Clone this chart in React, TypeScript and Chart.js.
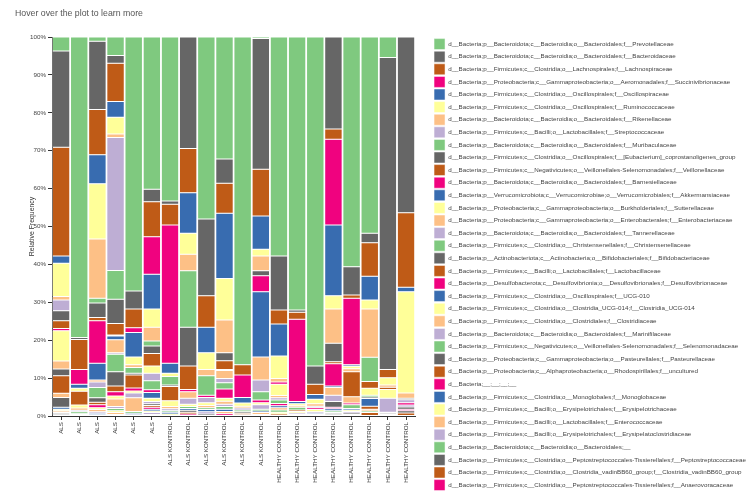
import React, { useEffect, useRef } from 'react';
import { Chart, registerables } from 'chart.js';

Chart.register(...registerables);

const FONT = "'Liberation Sans', Arial, Helvetica, sans-serif";

const sampleLabels = [
  'ALS', 'ALS', 'ALS', 'ALS', 'ALS', 'ALS',
  'ALS KONTROL', 'ALS KONTROL', 'ALS KONTROL', 'ALS KONTROL', 'ALS KONTROL', 'ALS KONTROL',
  'HEALTHY CONTROL', 'HEALTHY CONTROL', 'HEALTHY CONTROL', 'HEALTHY CONTROL',
  'HEALTHY CONTROL', 'HEALTHY CONTROL', 'HEALTHY CONTROL', 'HEALTHY CONTROL',
];

const taxa = [
  'd__Bacteria;p__Bacteroidota;c__Bacteroidia;o__Bacteroidales;f__Prevotellaceae',
  'd__Bacteria;p__Bacteroidota;c__Bacteroidia;o__Bacteroidales;f__Bacteroidaceae',
  'd__Bacteria;p__Firmicutes;c__Clostridia;o__Lachnospirales;f__Lachnospiraceae',
  'd__Bacteria;p__Proteobacteria;c__Gammaproteobacteria;o__Aeromonadales;f__Succinivibrionaceae',
  'd__Bacteria;p__Firmicutes;c__Clostridia;o__Oscillospirales;f__Oscillospiraceae',
  'd__Bacteria;p__Firmicutes;c__Clostridia;o__Oscillospirales;f__Ruminococcaceae',
  'd__Bacteria;p__Bacteroidota;c__Bacteroidia;o__Bacteroidales;f__Rikenellaceae',
  'd__Bacteria;p__Firmicutes;c__Bacilli;o__Lactobacillales;f__Streptococcaceae',
  'd__Bacteria;p__Bacteroidota;c__Bacteroidia;o__Bacteroidales;f__Muribaculaceae',
  'd__Bacteria;p__Firmicutes;c__Clostridia;o__Oscillospirales;f__[Eubacterium]_coprostanoligenes_group',
  'd__Bacteria;p__Firmicutes;c__Negativicutes;o__Veillonellales-Selenomonadales;f__Veillonellaceae',
  'd__Bacteria;p__Bacteroidota;c__Bacteroidia;o__Bacteroidales;f__Barnesiellaceae',
  'd__Bacteria;p__Verrucomicrobiota;c__Verrucomicrobiae;o__Verrucomicrobiales;f__Akkermansiaceae',
  'd__Bacteria;p__Proteobacteria;c__Gammaproteobacteria;o__Burkholderiales;f__Sutterellaceae',
  'd__Bacteria;p__Proteobacteria;c__Gammaproteobacteria;o__Enterobacterales;f__Enterobacteriaceae',
  'd__Bacteria;p__Bacteroidota;c__Bacteroidia;o__Bacteroidales;f__Tannerellaceae',
  'd__Bacteria;p__Firmicutes;c__Clostridia;o__Christensenellales;f__Christensenellaceae',
  'd__Bacteria;p__Actinobacteriota;c__Actinobacteria;o__Bifidobacteriales;f__Bifidobacteriaceae',
  'd__Bacteria;p__Firmicutes;c__Bacilli;o__Lactobacillales;f__Lactobacillaceae',
  'd__Bacteria;p__Desulfobacterota;c__Desulfovibrionia;o__Desulfovibrionales;f__Desulfovibrionaceae',
  'd__Bacteria;p__Firmicutes;c__Clostridia;o__Oscillospirales;f__UCG-010',
  'd__Bacteria;p__Firmicutes;c__Clostridia;o__Clostridia_UCG-014;f__Clostridia_UCG-014',
  'd__Bacteria;p__Firmicutes;c__Clostridia;o__Clostridiales;f__Clostridiaceae',
  'd__Bacteria;p__Bacteroidota;c__Bacteroidia;o__Bacteroidales;f__Marinifilaceae',
  'd__Bacteria;p__Firmicutes;c__Negativicutes;o__Veillonellales-Selenomonadales;f__Selenomonadaceae',
  'd__Bacteria;p__Proteobacteria;c__Gammaproteobacteria;o__Pasteurellales;f__Pasteurellaceae',
  'd__Bacteria;p__Proteobacteria;c__Alphaproteobacteria;o__Rhodospirillales;f__uncultured',
  'd__Bacteria;__;__;__;__',
  'd__Bacteria;p__Firmicutes;c__Clostridia;o__Monoglobales;f__Monoglobaceae',
  'd__Bacteria;p__Firmicutes;c__Bacilli;o__Erysipelotrichales;f__Erysipelotrichaceae',
  'd__Bacteria;p__Firmicutes;c__Bacilli;o__Lactobacillales;f__Enterococcaceae',
  'd__Bacteria;p__Firmicutes;c__Bacilli;o__Erysipelotrichales;f__Erysipelatoclostridiaceae',
  'd__Bacteria;p__Bacteroidota;c__Bacteroidia;o__Bacteroidales;__',
  'd__Bacteria;p__Firmicutes;c__Clostridia;o__Peptostreptococcales-Tissierellales;f__Peptostreptococcaceae',
  'd__Bacteria;p__Firmicutes;c__Clostridia;o__Clostridia_vadinBB60_group;f__Clostridia_vadinBB60_group',
  'd__Bacteria;p__Firmicutes;c__Clostridia;o__Peptostreptococcales-Tissierellales;f__Anaerovoracaceae',
];

const palette = ['#7fc97f', '#666666', '#bf5b17', '#f0027f', '#386cb0', '#ffff99', '#fdc086', '#beaed4'];

// Relative frequency (%) of each taxon (same order as `taxa`) per sample
const als1 = [3.7,25.4,28.7,0,1.9,8.8,0.9,2.8,0,2.7,2.0,0.6,0,8.0,2.1,0,0,1.8,4.6,0,0,0,1.1,0,0,2.6,0,0,0.5,0.4,0.4,0.3,0,0.4,0.3,0];
const als2 = [79.3,0.5,7.9,3.9,1.1,0.8,0,0,0,0,3.6,0,0,0.8,0.6,0.4,0.5,0,0,0,0.3,0,0,0,0,0,0,0,0,0.3,0,0,0,0,0,0];
const als3 = [1.1,18.0,12.0,0,7.6,14.6,15.6,0,1.3,3.8,0.9,11.2,4.4,0,0.5,1.5,2.7,1.2,0.6,0.8,0,0.5,0.6,0.4,0,0,0,0,0.4,0,0,0,0,0,0.3,0];
const als4 = [4.9,2.0,10.1,0,4.2,4.4,0.9,35.1,7.6,6.4,3.0,0.3,1.0,0,3.4,0.4,4.6,3.8,1.5,1.1,0,0.8,2.0,0.5,0.6,0,0,0,0,0.5,0.5,0,0,0.4,0,0];
const als5 = [67.0,4.8,4.9,1.3,6.4,2.1,0.7,0,1.5,0.5,3.4,0.8,0,0.5,0,1.3,0,0,0,0,0,0,3.6,0,0.5,0,0,0,0.4,0,0.3,0,0,0,0,0];
const als6 = [40.2,3.3,9.2,9.9,9.2,4.8,3.6,0,1.3,2.0,3.3,0,0,1.9,0,2.0,2.4,0,0,0.7,1.5,0.9,0,0.6,0,0.4,0.5,0.5,0.5,0.4,0,0.5,0,0,0.4,0];
const alsKontrol1 = [43.3,0.8,5.5,36.5,2.6,0.9,0,0,2.2,0.4,3.8,0,0,1.5,0.6,0.5,0.4,0,0,0,0.5,0,0,0,0,0,0,0,0,0.5,0,0,0,0,0,0];
const alsKontrol2 = [0,29.4,11.7,0,10.7,5.5,4.4,0,14.9,10.2,6.2,0.6,0,0,1.7,1.6,0,0,0,0,0,0.6,0,0,0.5,0,0,0,0.5,0,0,0,0,0.5,0.5,0.5];
const alsKontrol3 = [48.0,20.3,8.3,0,6.7,4.4,1.7,0,5.1,0,0,0.6,0,0,0,1.4,0,0,0,0,0,0.7,0.6,0,0.5,0,0,0,0.6,0,0,0.6,0,0.5,0,0];
const alsKontrol4 = [32.2,6.4,7.9,0,17.2,11.0,8.6,0,0,2.1,2.3,0.3,0,0,2.1,1.1,1.7,0,0,2.4,0,0.8,0.8,0.6,0.7,0,0,0,0.6,0,0.6,0,0,0,0,0.6];
const alsKontrol5 = [86.5,0,2.7,5.9,1.5,0.8,0.5,0.5,0.5,0.4,0.4,0,0,0.3,0,0,0,0,0,0,0,0,0,0,0,0,0,0,0,0,0,0,0,0,0,0];
const alsKontrol6 = [0.4,34.5,12.3,0,8.8,1.8,3.9,0,0,1.3,0,4.2,17.2,0,6.1,3.1,2.2,0,0,0.7,0,0.5,0,1.2,0.5,0,0,0,0.4,0,0.5,0,0,0.4,0,0];
const healthy1 = [57.8,14.2,3.7,0,8.5,5.9,0.9,0,0,0,0,0.6,0,3.0,0.6,0.6,0.9,0,0,0.6,0.5,0,0.6,0,0.6,0,0,0,0,0.5,0,0,0,0,0.5,0];
const healthy2 = [72.0,0.6,1.9,21.7,0.6,0.5,0.4,0,0.7,0,0.4,0,0,0.4,0,0.4,0,0,0,0,0,0,0,0,0,0,0,0,0.4,0,0,0,0,0,0,0];
const healthy3 = [86.8,4.8,2.7,0,1.3,1.2,0.6,0.4,0,0,0,0.5,0,0.6,0,0.4,0,0,0,0,0.3,0,0,0,0,0,0,0,0,0.4,0,0,0,0,0,0];
const healthy4 = [0,24.3,2.7,22.6,18.7,3.5,9.0,0,0,4.9,0.5,5.9,0.4,0,2.0,1.7,0,1.5,0,0.4,0.5,0,0,0,0.4,0,0,0,0.3,0,0,0,0,0.4,0,0.3];
const healthy5 = [60.6,7.5,0.8,17.6,0.4,0.6,0.8,0,0,0,6.6,0,0,0,1.7,0,0,0,0,0.4,0,0,0,0,1.0,0,0,0,0.4,0.4,0,0.4,0,0.4,0.4,0];
const healthy6 = [51.8,2.5,8.8,0,6.3,2.4,12.7,0,6.4,0,1.8,0,0,1.8,0,0,0.5,0.4,0,0,2.0,0,0,0,0,0,0.8,0,0,0,0.5,0,0.4,0,0.9,0];
const healthy7 = [5.4,82.3,2.2,0,0,1.9,0.6,0,0,0,0.6,0,0,2.3,0,3.7,0,0,0,0.3,0,0,0,0,0,0.3,0,0,0,0,0,0,0,0.4,0,0];
const healthy8 = [0,46.4,19.6,0,1.2,26.7,1.4,0,0,0.4,0,0,0,0,0,0.8,0,0,0,0.6,0,0,0,0.5,0,0.6,0,0.4,0,0,0,0,0,0.6,0.8,0];

const samples = [
  als1, als2, als3, als4, als5, als6,
  alsKontrol1, alsKontrol2, alsKontrol3, alsKontrol4, alsKontrol5, alsKontrol6,
  healthy1, healthy2, healthy3, healthy4, healthy5, healthy6, healthy7, healthy8,
];

const yTickValues = [0, 10, 20, 30, 40, 50, 60, 70, 80, 90, 100];

export default function App() {
  const canvasRef = useRef<HTMLCanvasElement | null>(null);

  useEffect(() => {
    document.body.style.margin = '0';
    const canvas = canvasRef.current;
    if (!canvas) return;

    // first taxon on top of each stack -> build datasets bottom-up
    const datasets = taxa
      .map((name, i) => ({
        label: name,
        data: samples.map((s) => (s[i] > 0 ? s[i] : null)),
        backgroundColor: palette[i % palette.length],
        borderColor: '#ffffff',
        borderWidth: 0.5,
        borderSkipped: false as const,
        categoryPercentage: 1,
        barPercentage: 0.96,
      }))
      .reverse();

    const chart = new Chart(canvas, {
      type: 'bar',
      data: { labels: sampleLabels, datasets },
      options: {
        responsive: false,
        animation: false,
        devicePixelRatio: 1,
        layout: { padding: { top: 37, left: 28, right: 0, bottom: 0 } },
        plugins: {
          legend: {
            position: 'right',
            align: 'start',
            reverse: true,
            maxWidth: 420,
            labels: {
              boxWidth: 11,
              boxHeight: 11,
              padding: 1.6,
              color: '#444',
              font: { family: FONT, size: 6.25 },
            },
          },
          tooltip: { enabled: false },
          title: { display: false },
        },
        scales: {
          x: {
            stacked: true,
            grid: { drawOnChartArea: false, offset: false, color: '#333', tickLength: 4 },
            border: { color: '#333' },
            ticks: {
              autoSkip: false,
              minRotation: 90,
              maxRotation: 90,
              padding: 2,
              color: '#333',
              font: { family: FONT, size: 6.25 },
            },
            afterFit: (s: any) => {
              s.height = 80;
            },
          },
          y: {
            stacked: true,
            min: 0,
            max: 100,
            afterBuildTicks: (s: any) => {
              s.ticks = yTickValues.map((v) => ({ value: v }));
            },
            ticks: {
              callback: (v: any) => v + '%',
              padding: 2,
              color: '#444',
              font: { family: FONT, size: 6.25 },
            },
            grid: { drawOnChartArea: false, color: '#333', tickLength: 4 },
            border: { color: '#333' },
            title: {
              display: true,
              text: 'Relative Frequency',
              color: '#333',
              padding: 0,
              font: { family: FONT, size: 6.9 },
            },
            afterFit: (s: any) => {
              s.width = 24;
            },
          },
          gap: {
            type: 'linear',
            position: 'right',
            display: true,
            grid: { display: false },
            border: { display: false },
            ticks: { display: false },
            afterFit: (s: any) => {
              s.width = 17.3;
            },
          },
        },
      },
    });

    return () => {
      chart.destroy();
    };
  }, []);

  return (
    <div style={{ position: 'relative', width: 756, height: 496, background: '#fff' }}>
      <div
        style={{
          position: 'absolute',
          left: 15,
          top: 8,
          fontFamily: FONT,
          fontSize: 8.75,
          lineHeight: '10px',
          color: '#555',
          whiteSpace: 'nowrap',
        }}
      >
        Hover over the plot to learn more
      </div>
      <canvas ref={canvasRef} width={756} height={496} style={{ display: 'block' }} />
    </div>
  );
}
